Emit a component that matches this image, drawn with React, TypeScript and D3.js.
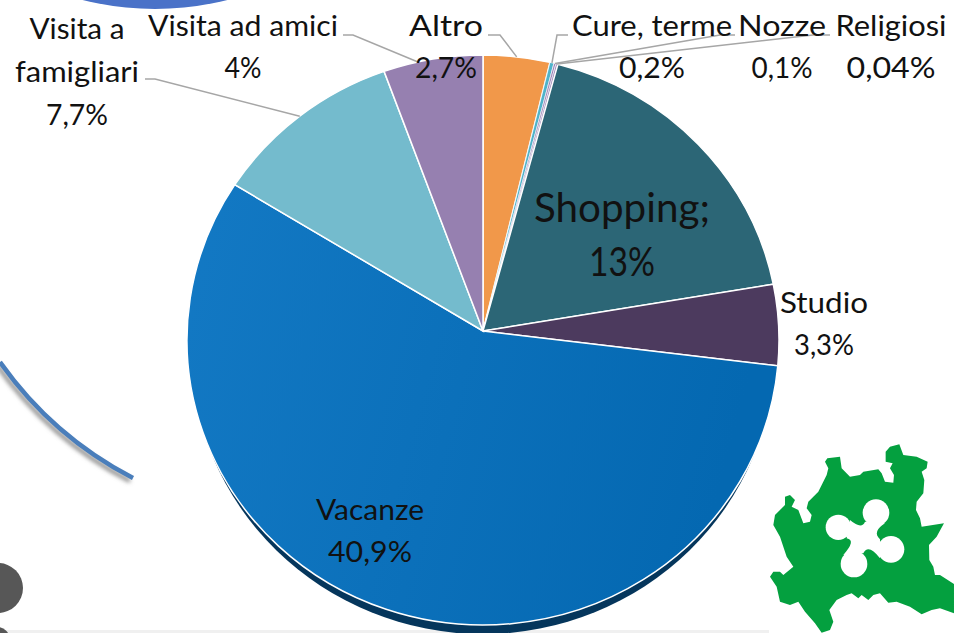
import React from 'react';
import * as d3 from 'd3';

// slice sizes are read from the drawn angles, the printed labels don't add up to them
const categories = ['Altro', 'Cure, terme', 'Nozze', 'Religiosi', 'Shopping;', 'Studio', 'Vacanze', 'Visita a famigliari', 'Visita ad amici'];
const sliceShares = [3.63, 0.22, 0.11, 0.11, 17.78, 4.58, 57.7, 10.4, 5.42];
const printedLabels = ['2,7%', '0,2%', '0,1%', '0,04%', '13%', '3,3%', '40,9%', '7,7%', '4%'];
const colors = ['#f1984a', '#4fb3ca', '#9a7fb5', '#9a7fb5', '#2c6676', '#4c3a5e', '#0c70bd', '#74bbcd', '#9680b0'];

const font = 'Lato, sans-serif';
const W = 954;
const H = 633;
// the pie is tilted: the slices meet above the middle of the rim ellipse
const apexX = 483;
const apexY = 331;
const rimCy = 340;
const rx = 296;
const ry = 285;

const arcs = d3.pie<number>().sort(null).value(d => d)(sliceShares);

const rimPoint = (a: number): [number, number] => [apexX + rx * Math.sin(a), rimCy - ry * Math.cos(a)];

const slicePath = (d: d3.PieArcDatum<number>) => {
  const [x0, y0] = rimPoint(d.startAngle);
  const [x1, y1] = rimPoint(d.endAngle);
  const large = d.endAngle - d.startAngle > Math.PI ? 1 : 0;
  return `M${apexX},${apexY} L${x0},${y0} A${rx},${ry} 0 ${large} 1 ${x1},${y1} Z`;
};

const rim = (i: number, frac: number) => rimPoint(arcs[i].startAngle + (arcs[i].endAngle - arcs[i].startAngle) * frac);

// label text and where it sits; leader = line start, elbow
const labels = [
  { i: 7, lines: ['Visita a', 'famigliari'], x: 77, y: 39, size: 29, dy: 43, len: [95, 124, 62], leader: [[145, 79], [155, 79]], frac: 0.5 },
  { i: 8, lines: ['Visita ad amici'], x: 243, y: 36, size: 29, dy: 42, len: [190, 37], leader: [[343, 35], [353, 35]], frac: 0.35 },
  { i: 0, lines: ['Altro'], x: 446, y: 36, size: 29, dy: 42, len: [74, 62], leader: [[488, 35], [500, 35]], frac: 0.5 },
  { i: 1, lines: ['Cure, terme'], x: 652, y: 36, size: 29, dy: 42, len: [160, 66], leader: [[568, 35], [557, 35]], frac: 0.5 },
  { i: 2, lines: ['Nozze'], x: 782, y: 36, size: 29, dy: 42, len: [88, 61], leader: [[735, 35], [720, 35]], frac: 0.5 },
  { i: 3, lines: ['Religiosi'], x: 891, y: 36, size: 29, dy: 42, len: [111, 89], leader: [[830, 35], [813, 35]], frac: 0.5 },
  { i: 5, lines: ['Studio'], x: 824, y: 313, size: 29, dy: 42, len: [88, 60], leader: null, frac: 0 },
  { i: 6, lines: ['Vacanze'], x: 370, y: 520, size: 29, dy: 42, len: [108, 84], leader: null, frac: 0 },
  { i: 4, lines: ['Shopping;'], x: 622, y: 222, size: 41, dy: 54, len: [176, 66], leader: null, frac: 0 },
];

// Lombardia outline, coordinates of a 3x crop
const regionOutline = 'M262,85 L300,80 305,115 330,140 360,135 370,125 415,118 425,130 435,155 460,158 462,135 450,115 458,100 437,95 437,65 450,50 478,43 490,75 530,80 563,95 560,115 545,125 553,150 550,190 530,215 528,240 540,265 545,290 612,280 590,320 567,345 568,390 580,410 585,435 600,435 642,462 642,550 600,535 575,540 545,553 510,530 470,515 445,518 420,490 400,495 385,510 365,495 355,505 335,490 320,495 290,510 268,540 280,575 270,600 245,608 225,580 195,545 175,515 150,525 120,515 110,470 90,440 100,425 120,425 130,435 160,410 140,380 120,320 100,285 105,255 135,225 135,200 150,195 165,210 155,230 175,240 190,280 210,275 215,255 200,235 205,215 235,185 260,135 265,115 255,95 Z';
const cloverLobes = [[295, 292, 38], [408, 248, 40], [453, 358, 40], [342, 402, 40]];
const cloverHub = 'M330,270 Q365,300 375,275 L435,280 Q395,305 420,328 L420,385 Q385,340 370,370 L310,375 Q350,330 320,325 Z';

const sweepPath = 'M0,362 A374,374 0 0 0 133,478';

export default function App() {
  return (
    <svg width={W} height={H} style={{ position: 'fixed', left: 0, top: 0 }}>
      <defs>
        <linearGradient id="vac" x1="0" x2="1" y1="0" y2="0.2">
          <stop offset="0" stopColor="#1379c4" />
          <stop offset="1" stopColor="#0468b1" />
        </linearGradient>
        <filter id="blur" x="-20%" y="-20%" width="140%" height="140%">
          <feGaussianBlur stdDeviation="2" />
        </filter>
      </defs>
      <rect width={W} height={H} fill="#fff" />
      <rect x={0} y={630} width={769} height={3} fill="#f0f0f0" />

      {/* slide decoration behind the chart */}
      <circle cx={155} cy={-287} r={296} fill="#4a72c8" />
      <path d={sweepPath} transform="translate(-3,3)" fill="none" stroke="#888" strokeWidth={4} filter="url(#blur)" />
      <path d={sweepPath} fill="none" stroke="#4a7ebb" strokeWidth={4.5} />
      <circle cx={-2} cy={588} r={25} fill="#575757" />
      <circle cx={-3} cy={640} r={13} fill="#575757" />

      {/* dark edge under the pie */}
      <ellipse cx={apexX} cy={rimCy + 9} rx={rx - 4} ry={ry} fill="#05365c" />

      {arcs.map((d, i) => (
        <path key={categories[i]} d={slicePath(d)} fill={i === 6 ? 'url(#vac)' : colors[i]} stroke="#fff" strokeWidth={i >= 1 && i <= 3 ? 0.7 : 1.5} />
      ))}

      {labels.filter(l => l.leader).map(l => (
        <polyline key={l.i} points={[...(l.leader as number[][]), rim(l.i, l.frac)].join(' ')} fill="none" stroke="#a6a6a6" strokeWidth={1.5} />
      ))}

      {labels.map(l => {
        const rows = [...l.lines, printedLabels[l.i]];
        return (
          <text key={l.i} fontFamily={font} fontSize={l.size} fill="#111" textAnchor="middle">
            {rows.map((t, k) => (
              <tspan key={k} x={l.x} y={l.y + k * l.dy} textLength={l.len[k]} lengthAdjust="spacingAndGlyphs">{t}</tspan>
            ))}
          </text>
        );
      })}

      <g transform="translate(740,430) scale(0.3333)">
        <path d={regionOutline} fill="#04a03f" />
        <path d={cloverHub} fill="#fff" />
        {cloverLobes.map(c => <circle key={c[0]} cx={c[0]} cy={c[1]} r={c[2]} fill="#fff" />)}
      </g>
    </svg>
  );
}
